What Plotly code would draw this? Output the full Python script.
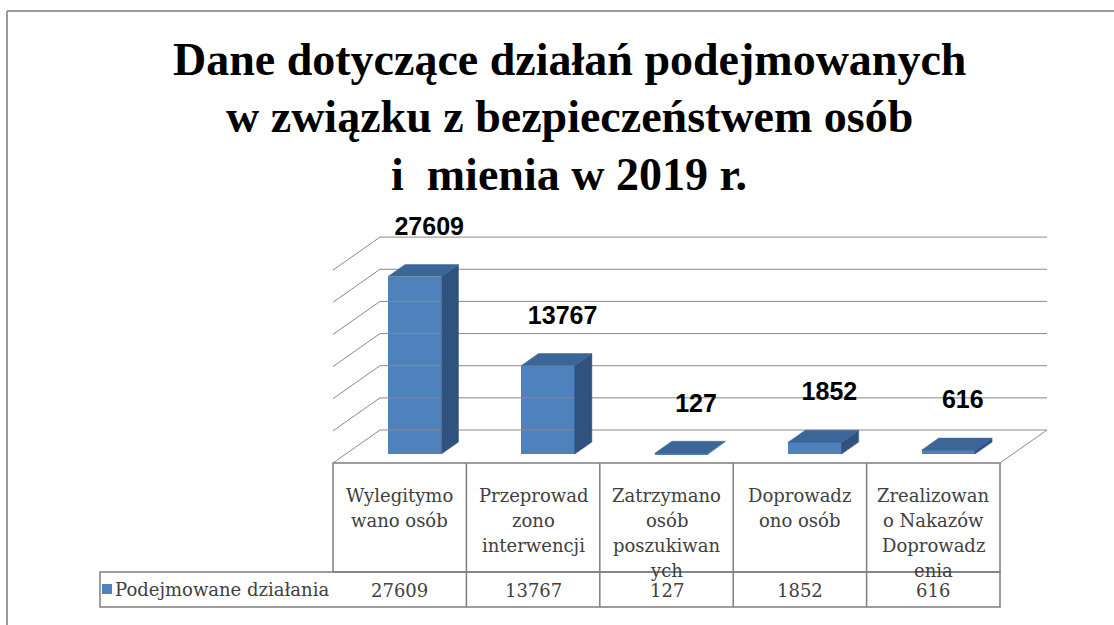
import plotly.graph_objects as go

# ---------------- data ----------------
categories = [
    "Wylegitymo<br>wano osób",
    "Przeprowad<br>zono<br>interwencji",
    "Zatrzymano<br>osób<br>poszukiwan<br>ych",
    "Doprowadz<br>ono osób",
    "Zrealizowan<br>o Nakazów<br>Doprowadz<br>enia",
]
values = [27609, 13767, 127, 1852, 616]
series_name = "Podejmowane działania"
grid_values = [0, 5000, 10000, 15000, 20000, 25000, 30000]
title_lines = [
    "Dane dotyczące działań podejmowanych",
    "w związku z bezpieczeństwem osób",
    "i\u00a0 mienia w 2019 r.",
]

# ---------------- geometry / style ----------------
W, H = 1114, 625
X0_PX, COL_PX = 333.0, 133.4      # front-left corner of floor, column width
Y0_PX, PX_PER_VAL = 463.0, 0.00643  # front floor line, pixels per value unit

def px_x(p):
    return (p - X0_PX) / COL_PX

def px_y(p):
    return (Y0_PX - p) / PX_PER_VAL

DX = 47 / COL_PX          # full depth, x shift
DY = 33 / PX_PER_VAL      # full depth, y shift
F0 = 0.27                 # bar front depth fraction
FD = 0.364                # bar depth fraction
BAR_L = 0.317             # bar left offset within column
BAR_W = 0.40

FRONT = "#4F81BD"
TOP = "#3C6698"
SIDE = "#30527F"
GRID = "#8A8A8A"
TBL = "#7F7F7F"
TXT = "#404040"
TBL_FONT = dict(family="DejaVu Serif", size=18, color=TXT)

fig = go.Figure()

# back wall + side wall gridlines
for g in grid_values:
    fig.add_trace(go.Scatter(
        x=[0, DX, 5 + DX], y=[g, DY + g, DY + g], mode="lines",
        line=dict(color=GRID, width=1), hoverinfo="skip", showlegend=False))
fig.add_trace(go.Scatter(
    x=[5 + DX, 5], y=[DY, 0], mode="lines",
    line=dict(color=GRID, width=1), hoverinfo="skip", showlegend=False))

# bars
n = len(values)
fx = F0 * DX
fy = F0 * DY
ddx = FD * DX
ddy = FD * DY
centers = [i + BAR_L + BAR_W / 2 + fx for i in range(n)]
fig.add_trace(go.Bar(
    x=centers, y=values, base=[fy] * n, width=[BAR_W] * n,
    marker=dict(color=FRONT, line=dict(width=0)),
    name=series_name, showlegend=False, hoverinfo="skip"))

for i, v in enumerate(values):
    xl = centers[i] - BAR_W / 2
    xr = centers[i] + BAR_W / 2
    top = fy + v
    # side face
    fig.add_trace(go.Scatter(
        x=[xr, xr + ddx, xr + ddx, xr, xr],
        y=[fy, fy + ddy, top + ddy, top, fy],
        fill="toself", fillcolor=SIDE, mode="lines",
        line=dict(color=SIDE, width=0.5), hoverinfo="skip", showlegend=False))
    # top face
    fig.add_trace(go.Scatter(
        x=[xl, xr, xr + ddx, xl + ddx, xl],
        y=[top, top, top + ddy, top + ddy, top],
        fill="toself", fillcolor=TOP, mode="lines",
        line=dict(color=TOP, width=0.5), hoverinfo="skip", showlegend=False))

# data labels
fig.add_trace(go.Scatter(
    x=[c + ddx / 2 + 6 / COL_PX for c in centers],
    y=[fy + v + ddy + 36 / PX_PER_VAL for v in values],
    text=["<b>%d</b>" % v for v in values], mode="text",
    textfont=dict(family="Liberation Sans", size=25, color="#000000"),
    textposition="middle center", hoverinfo="skip", showlegend=False))

# ---------------- table ----------------
shapes = []
hdr_top, hdr_bot, tbl_bot = px_y(463), px_y(572), px_y(607)
leg_left = px_x(100)
line = dict(color=TBL, width=1.5)
shapes.append(dict(type="rect", xref="x", yref="y", x0=0, x1=n, y0=hdr_bot, y1=hdr_top, line=line))
shapes.append(dict(type="rect", xref="x", yref="y", x0=leg_left, x1=n, y0=tbl_bot, y1=hdr_bot, line=line))
for i in range(1, n):
    shapes.append(dict(type="line", xref="x", yref="y", x0=i, x1=i, y0=tbl_bot, y1=hdr_top, line=line))
# outer frame (top and left edges)
shapes.append(dict(type="line", xref="paper", yref="paper", x0=7 / W, x1=1.0,
                   y0=1 - 11 / H, y1=1 - 11 / H, line=dict(color="#9A9A9A", width=2)))
shapes.append(dict(type="line", xref="paper", yref="paper", x0=7 / W, x1=7 / W,
                   y0=0, y1=1 - 11 / H, line=dict(color="#9A9A9A", width=2)))

annotations = []
for i, cat in enumerate(categories):
    for k, ln in enumerate(cat.split("<br>")):
        annotations.append(dict(
            x=i + 0.5, y=px_y(495 + 25 * k), xref="x", yref="y", text=ln,
            showarrow=False, xanchor="center", yanchor="middle", font=TBL_FONT))
    annotations.append(dict(
        x=i + 0.5, y=px_y(590), xref="x", yref="y", text=str(values[i]),
        showarrow=False, xanchor="center", yanchor="middle", font=TBL_FONT))
annotations.append(dict(
    x=px_x(113), y=px_y(589), xref="x", yref="y", text=series_name,
    showarrow=False, xanchor="left", yanchor="middle", font=TBL_FONT))
# legend key
fig.add_trace(go.Scatter(
    x=[px_x(107)], y=[px_y(589)], mode="markers",
    marker=dict(symbol="square", size=10, color=FRONT),
    hoverinfo="skip", showlegend=False))

# title
for k, t in enumerate(title_lines):
    annotations.append(dict(
        x=569 / W, y=1 - (59 + 57.5 * k) / H, xref="paper", yref="paper", text="<b>" + t + "</b>",
        showarrow=False, xanchor="center", yanchor="middle",
        font=dict(family="Liberation Serif", size=46, color="#000000")))

fig.update_layout(
    width=W, height=H, margin=dict(l=0, r=0, t=0, b=0),
    paper_bgcolor="white", plot_bgcolor="white",
    xaxis=dict(range=[px_x(0), px_x(W)], visible=False, fixedrange=True),
    yaxis=dict(range=[px_y(H), px_y(0)], visible=False, fixedrange=True),
    shapes=shapes, annotations=annotations, showlegend=False, bargap=0,
)

fig.write_html("out.html", config={"displayModeBar": False},
               post_script="document.body.style.margin='0';")
